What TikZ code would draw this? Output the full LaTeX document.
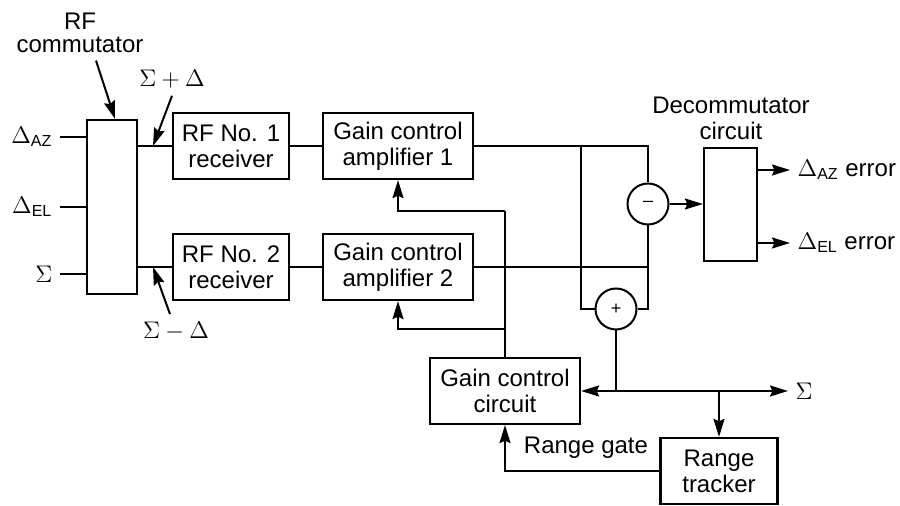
\documentclass[tikz,border=0pt]{standalone}
\usepackage{amsmath}
\usepackage{fontspec}
\setmainfont{Liberation Sans}
\setsansfont{Liberation Sans}
\usetikzlibrary{arrows.meta}

\begin{document}
\begin{tikzpicture}[x=0.5pt,y=-0.5pt,line width=1pt,
  font=\fontsize{12}{13}\selectfont,
  box/.style={draw,line width=1.1pt,align=center,inner sep=0pt,minimum height=33pt},
  sumnode/.style={draw,circle,minimum size=20.5pt,inner sep=0pt,font=\fontsize{9}{10}\selectfont},
  lbl/.style={align=center},
  sig/.style={-{Stealth[length=9pt,width=5.5pt,inset=1.2pt]}}]
\useasboundingbox (0,0) rectangle (900,506);
% commutator and inputs
\node[box,minimum width=25pt,minimum height=87pt] (comm) at (112,207) {};
\node[lbl] (commlbl) at (80,33) {RF\\[-1.5pt]commutator};
\draw[sig] ([xshift=8pt]commlbl.south) -- ([xshift=1.5pt]comm.north);
\coordinate (inaz) at (60,137);
\coordinate (inel) at (60,207);
\coordinate (insum) at (60,274);
\node[anchor=east] (lblaz) at (inaz) {$\Delta_{\text{AZ}}$};
\node[anchor=east] (lblel) at (inel) {$\Delta_{\text{EL}}$};
\node[anchor=east] (lblsum) at (insum) {$\Sigma$};
\draw (inaz) -- (inaz -| comm.west);
\draw (inel) -- (inel -| comm.west);
\draw (insum) -- (insum -| comm.west);
% receivers
\node[box,minimum width=58pt] (rf1) at (231,146) {RF No. 1\\receiver};
\node[box,minimum width=58pt] (rf2) at (231,267) {RF No. 2\\receiver};
\draw (comm.east |- rf1.west) -- (rf1.west);
\draw (comm.east |- rf2.west) -- (rf2.west);
\node (sumlbl) at (172,79) {$\Sigma + \Delta$};
\node (diflbl) at (176,331) {$\Sigma - \Delta$};
\coordinate (sumpt) at (153,146);
\coordinate (difpt) at (153,267);
\draw[sig] (sumlbl.south) -- (sumpt);
\draw[sig] ([xshift=-3pt]diflbl.north) -- (difpt);
% gain control amplifiers
\node[box,minimum width=75pt] (amp1) at (398,146) {Gain control\\amplifier 1};
\node[box,minimum width=75pt] (amp2) at (398,267) {Gain control\\amplifier 2};
\draw (rf1.east) -- (amp1.west);
\draw (rf2.east) -- (amp2.west);
% sum and difference
\node[sumnode] (minus) at (648,204) {--};
\node[sumnode] (plus) at (616,309) {+};
\coordinate (j1) at (581,146);
\draw (amp1.east) -| (minus.north);
\draw (j1) |- (plus.west);
\draw (minus.south) |- (plus.east);
\draw (amp2.east) -- (amp2.east -| minus.south);
% decommutator
\node[box,minimum width=26.5pt,minimum height=56.5pt] (dec) at (730.5,204.5) {};
\node[lbl] (declbl) at (731,118) {Decommutator\\circuit};
\draw[sig] (minus.east) -- (minus.east -| dec.west);
\node[anchor=west] (azerr) at (790,170) {$\Delta_{\text{AZ}}$ error};
\node[anchor=west] (elerr) at (790,243) {$\Delta_{\text{EL}}$ error};
\draw[sig] (dec.east |- azerr.west) -- (azerr.west);
\draw[sig] (dec.east |- elerr.west) -- (elerr.west);
% gain control circuit and range tracker
\node[box,minimum width=75pt] (gcc) at (505,391) {Gain control\\circuit};
\node[box,minimum width=58.5pt] (rt) at (719,471) {Range\\tracker};
\node[anchor=west] (sigout) at (788,391) {$\Sigma$};
\coordinate (sj) at (616,391);
\coordinate (tj) at (719,391);
\draw (plus.south) -- (sj);
\draw[sig] (sj) -- (gcc.east);
\draw[sig] (sj) -- (sigout.west);
\draw[sig] (tj) -- (rt.north);
\draw[sig] (rt.west) -| (gcc.south);
\node (rglbl) at (586,448) {Range gate};
% feedback to amplifiers
\coordinate (fb1) at (505,211);
\coordinate (fb2) at (505,329);
\draw (gcc.north) -- (fb1);
\draw[sig] (fb1) -| (amp1.south);
\draw[sig] (fb2) -| (amp2.south);
\end{tikzpicture}
\end{document}
